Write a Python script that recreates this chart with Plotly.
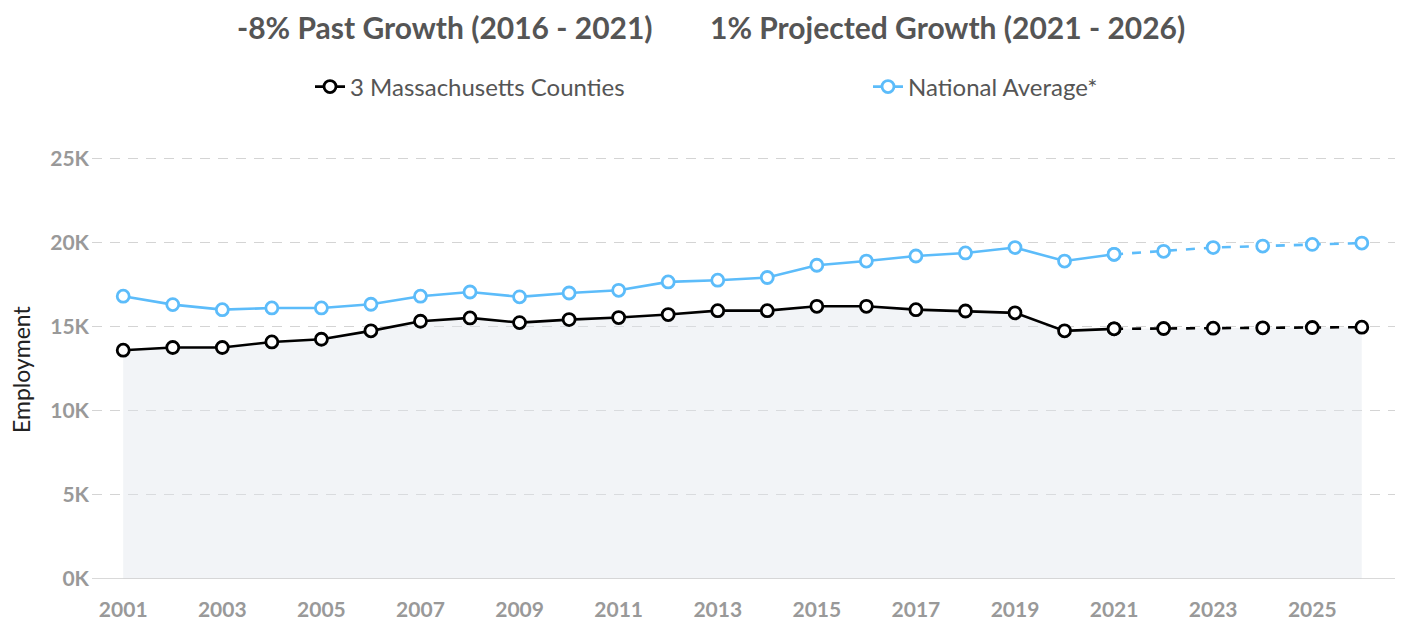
import plotly.graph_objects as go

years = list(range(2001, 2027))
hist_years = list(range(2001, 2022))
proj_years = list(range(2021, 2027))

region = [13.6, 13.76, 13.76, 14.09, 14.25, 14.75, 15.32, 15.52, 15.24, 15.42,
          15.54, 15.72, 15.95, 15.95, 16.21, 16.21, 16.01, 15.93, 15.82, 14.75,
          14.87, 14.89, 14.91, 14.93, 14.95, 14.97]
national = [16.81, 16.31, 16.01, 16.11, 16.11, 16.33, 16.81, 17.06, 16.77, 17.0,
            17.16, 17.66, 17.76, 17.92, 18.65, 18.9, 19.2, 19.38, 19.7, 18.9,
            19.3, 19.48, 19.7, 19.79, 19.89, 19.97]
region = [v * 1000 for v in region]
national = [v * 1000 for v in national]

y_ticks = [0, 5000, 10000, 15000, 20000, 25000]
y_labels = ["0K", "5K", "10K", "15K", "20K", "25K"]
x_ticks = list(range(2001, 2026, 2))

BLACK = "#000000"
BLUE = "#5cbcfa"
FONT = "Lato, Roboto, sans-serif"

n_hist = len(hist_years)

# layout geometry (figure pixels; page has an 8px body margin)
OFF = 8
W, H = 1395, 616
L, R, T, B = 84, 8, 142, 45
PW = W - L - R
PH = H - T - B


def px_x(page_x):
    return (page_x - OFF - L) / PW


def px_y(page_y):
    return (H - B - (page_y - OFF)) / PH


fig = go.Figure()
fig.add_trace(go.Scatter(x=years, y=region, mode="lines", line=dict(width=0),
                         fill="tozeroy", fillcolor="rgba(225,228,236,0.42)",
                         showlegend=False, hoverinfo="skip"))


def add_series(name, vals, color, lw, legend):
    mk = dict(size=12, color="white", line=dict(color=color, width=2.8))
    fig.add_trace(go.Scatter(x=proj_years, y=vals[n_hist - 1:], mode="lines+markers",
                             line=dict(color=color, width=lw, dash="dash"),
                             marker=mk, showlegend=False, cliponaxis=False))
    fig.add_trace(go.Scatter(x=hist_years, y=vals[:n_hist], mode="lines+markers",
                             name=name, line=dict(color=color, width=lw),
                             marker=mk, cliponaxis=False, legend=legend))


add_series("3 Massachusetts Counties", region, BLACK, 2.6, "legend")
add_series("National Average*", national, BLUE, 2.6, "legend2")

legend_common = dict(orientation="h", yanchor="middle", xanchor="left",
                     font=dict(size=24, color="#555555", family=FONT),
                     itemwidth=30, bgcolor="rgba(0,0,0,0)")

fig.update_layout(
    width=W, height=H,
    margin=dict(l=L, r=R, t=T, b=B, autoexpand=False),
    paper_bgcolor="white", plot_bgcolor="white",
    font=dict(family=FONT),
    showlegend=True,
    legend=dict(x=px_x(310), y=px_y(87), **legend_common),
    legend2=dict(x=px_x(868), y=px_y(87), **legend_common),
    xaxis=dict(range=[2000.37, 2026.67], tickvals=x_ticks, ticktext=[str(t) for t in x_ticks],
               showgrid=False, zeroline=False, showline=False, ticks="",
               tickfont=dict(size=21, color="#999999", family=FONT, weight="bold"),
               ticklabelstandoff=16),
    yaxis=dict(range=[0, 25500], tickvals=y_ticks, ticktext=y_labels,
               showgrid=True, gridcolor="#d4d4d4", griddash="10px,8px", gridwidth=1,
               zeroline=False, showline=False, ticks="",
               tickfont=dict(size=21, color="#999999", family=FONT, weight="bold"),
               ticklabelstandoff=2),
    shapes=[dict(type="line", xref="paper", yref="y", x0=0, x1=1, y0=0, y1=0,
                 line=dict(color="#cccccc", width=1.5), layer="above")],
    annotations=[
        dict(text="<b>-8% Past Growth (2016 - 2021)</b>", xref="paper", yref="paper",
             x=px_x(445), y=px_y(27), xanchor="center", yanchor="middle",
             showarrow=False, font=dict(size=30, color="#555555", family=FONT)),
        dict(text="<b>1% Projected Growth (2021 - 2026)</b>", xref="paper", yref="paper",
             x=px_x(947), y=px_y(27), xanchor="center", yanchor="middle",
             showarrow=False, font=dict(size=30, color="#555555", family=FONT)),
        dict(text="Employment", xref="paper", yref="paper", x=px_x(21), y=px_y(370),
             xanchor="center", yanchor="middle", textangle=-90, showarrow=False,
             font=dict(size=23, color="#222222", family=FONT)),
    ],
)

fig.write_html("out.html")
